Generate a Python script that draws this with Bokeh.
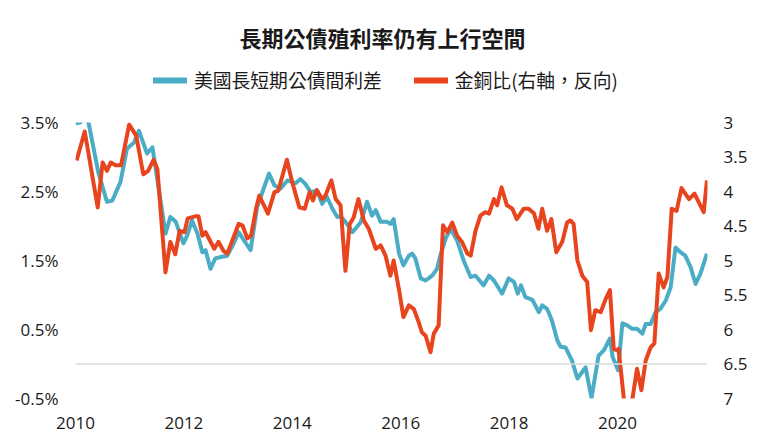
from bokeh.plotting import figure
from bokeh.layouts import column
from bokeh.models import (Range1d, LinearAxis, FixedTicker, PrintfTickFormatter,
                          NumeralTickFormatter, Legend, LegendItem, Span, Label)
from bokeh.embed import file_html
from bokeh.resources import INLINE

title_text = "長期公債殖利率仍有上行空間"
spread_name = "美國長短期公債間利差"
ratio_name = "金銅比(右軸，反向)"

# US 10y-2y spread (%), left axis
spread_year = [2010.00, 2010.09, 2010.17, 2010.24, 2010.42, 2010.58, 2010.68, 2010.83, 2010.95, 2011.08,
               2011.17, 2011.32, 2011.42, 2011.66, 2011.75, 2011.85, 2011.99, 2012.06, 2012.15, 2012.25,
               2012.34, 2012.40, 2012.49, 2012.58, 2012.68, 2012.80, 2012.92, 2013.01, 2013.11, 2013.23,
               2013.35, 2013.47, 2013.57, 2013.67, 2013.78, 2013.91, 2014.06, 2014.15, 2014.24, 2014.34,
               2014.46, 2014.55, 2014.64, 2014.74, 2014.83, 2014.89, 2014.98, 2015.11, 2015.26, 2015.38,
               2015.47, 2015.54, 2015.63, 2015.75, 2015.81, 2015.87, 2015.97, 2016.05, 2016.15, 2016.21,
               2016.27, 2016.37, 2016.46, 2016.58, 2016.67, 2016.73, 2016.83, 2016.92, 2017.04, 2017.16,
               2017.29, 2017.38, 2017.53, 2017.63, 2017.72, 2017.87, 2017.99, 2018.09, 2018.16, 2018.22,
               2018.30, 2018.43, 2018.55, 2018.61, 2018.70, 2018.79, 2018.89, 2018.95, 2019.04, 2019.16,
               2019.26, 2019.41, 2019.52, 2019.65, 2019.75, 2019.86, 2019.91, 2020.01, 2020.09, 2020.18,
               2020.27, 2020.36, 2020.46, 2020.52, 2020.61, 2020.70, 2020.79, 2020.89, 2020.98, 2021.07,
               2021.16, 2021.25, 2021.35, 2021.44, 2021.53, 2021.65]
spread_val = [3.49, 3.50, 3.60, 3.50, 2.78, 2.35, 2.37, 2.64, 3.12, 3.21,
              3.38, 3.05, 3.14, 1.89, 2.13, 2.06, 1.75, 1.86, 2.08, 1.89,
              1.62, 1.65, 1.38, 1.53, 1.55, 1.57, 1.75, 1.91, 1.79, 1.65,
              2.27, 2.54, 2.76, 2.59, 2.54, 2.66, 2.62, 2.68, 2.61, 2.49,
              2.51, 2.32, 2.42, 2.25, 2.13, 2.14, 2.06, 1.91, 2.05, 2.35,
              2.15, 2.23, 2.06, 2.06, 2.03, 2.10, 1.60, 1.43, 1.57, 1.60,
              1.53, 1.24, 1.21, 1.28, 1.38, 1.57, 1.82, 1.96, 1.79, 1.50,
              1.26, 1.28, 1.14, 1.28, 1.21, 1.02, 1.24, 1.19, 1.02, 1.14,
              0.97, 0.93, 0.75, 0.85, 0.80, 0.63, 0.34, 0.25, 0.24, 0.05,
              -0.21, -0.05, -0.49, 0.12, 0.20, 0.37, 0.10, -0.09, 0.59, 0.56,
              0.51, 0.51, 0.44, 0.58, 0.58, 0.75, 0.80, 0.92, 1.11, 1.69,
              1.62, 1.57, 1.40, 1.16, 1.31, 1.60]

# Gold/copper ratio, right axis (reversed)
ratio_year = [2010.02, 2010.17, 2010.41, 2010.50, 2010.58, 2010.65, 2010.74, 2010.84, 2010.99, 2011.12,
              2011.25, 2011.34, 2011.44, 2011.51, 2011.66, 2011.75, 2011.84, 2011.92, 2012.01, 2012.07,
              2012.21, 2012.27, 2012.34, 2012.40, 2012.56, 2012.64, 2012.73, 2012.80, 2013.01, 2013.08,
              2013.17, 2013.24, 2013.33, 2013.39, 2013.55, 2013.67, 2013.74, 2013.90, 2014.00, 2014.13,
              2014.23, 2014.32, 2014.38, 2014.45, 2014.55, 2014.61, 2014.72, 2014.80, 2014.89, 2014.98,
              2015.06, 2015.13, 2015.22, 2015.32, 2015.41, 2015.54, 2015.63, 2015.72, 2015.81, 2015.87,
              2015.97, 2016.05, 2016.15, 2016.24, 2016.33, 2016.39, 2016.46, 2016.55, 2016.61, 2016.70,
              2016.78, 2016.86, 2016.95, 2017.04, 2017.13, 2017.23, 2017.29, 2017.38, 2017.47, 2017.56,
              2017.63, 2017.72, 2017.78, 2017.86, 2017.96, 2018.06, 2018.14, 2018.27, 2018.36, 2018.46,
              2018.54, 2018.61, 2018.70, 2018.78, 2018.87, 2018.98, 2019.07, 2019.13, 2019.19, 2019.26,
              2019.35, 2019.44, 2019.51, 2019.59, 2019.69, 2019.78, 2019.86, 2019.93, 2019.98, 2020.02,
              2020.12, 2020.19, 2020.27, 2020.36, 2020.44, 2020.52, 2020.61, 2020.68, 2020.76, 2020.85,
              2020.92, 2021.00, 2021.09, 2021.18, 2021.32, 2021.42, 2021.59, 2021.65]
ratio_val = [3.55, 3.13, 4.23, 3.58, 3.70, 3.58, 3.62, 3.62, 3.03, 3.19,
             3.75, 3.70, 3.54, 3.67, 5.17, 4.73, 4.91, 4.57, 4.59, 4.39,
             4.36, 4.36, 4.64, 4.59, 4.83, 4.73, 4.86, 4.90, 4.47, 4.49,
             4.68, 4.64, 4.25, 4.06, 4.32, 4.01, 3.99, 3.54, 3.87, 4.23,
             4.25, 4.01, 4.13, 3.98, 4.11, 4.06, 3.84, 4.11, 4.20, 5.15,
             4.47, 4.38, 4.11, 4.42, 4.54, 4.83, 4.78, 4.93, 5.22, 5.00,
             5.43, 5.82, 5.65, 5.70, 5.89, 6.04, 6.09, 6.33, 6.06, 5.94,
             4.49, 4.59, 4.45, 4.64, 4.73, 4.90, 4.93, 4.57, 4.35, 4.30,
             4.32, 4.11, 4.20, 3.94, 4.20, 4.25, 4.40, 4.25, 4.25, 4.32,
             4.54, 4.25, 4.57, 4.40, 4.88, 4.73, 4.45, 4.42, 4.47, 5.00,
             5.22, 5.31, 6.01, 5.72, 5.75, 5.56, 5.43, 6.28, 6.30, 6.28,
             7.03, 7.35, 7.03, 6.57, 6.88, 6.45, 6.26, 6.20, 5.19, 5.39,
             5.24, 4.25, 4.28, 3.95, 4.11, 4.03, 4.30, 3.84]

year_ticks = [2010, 2012, 2014, 2016, 2018, 2020]
left_ticks = [-0.5, 0.5, 1.5, 2.5, 3.5]
right_ticks = [3, 3.5, 4, 4.5, 5, 5.5, 6, 6.5, 7]

TEAL = "#4bacc6"
RED = "#e8441e"
CJK = "Noto Sans CJK TC"
NUM = "Open Sans"
INK = "#1a1a1a"
NAN = float("nan")

# ---- header (title + legend); its frame is aligned with the chart frame (x 75..707) ----
head = figure(width=760, height=102, output_backend="svg", toolbar_location=None,
              x_range=Range1d(75, 707), y_range=Range1d(102, 0),
              x_axis_type=None, y_axis_type=None,
              min_border_left=75, min_border_right=53, min_border_top=0, min_border_bottom=0)
head.outline_line_color = None
head.xgrid.visible = False
head.ygrid.visible = False

head.add_layout(Label(x=382, y=36, text=title_text, text_align="center", text_baseline="middle",
                      text_font=CJK, text_font_size="22px", text_font_style="bold",
                      text_color=INK))

# legend key renderers (no visible data of their own)
k1 = head.line([NAN], [NAN], line_color=TEAL, line_width=6, line_cap="round")
k2 = head.line([NAN], [NAN], line_color=RED, line_width=6, line_cap="round")
legend = Legend(items=[LegendItem(label=spread_name, renderers=[k1]),
                       LegendItem(label=ratio_name, renderers=[k2])],
                orientation="horizontal", location=(78, 9),
                label_text_font=CJK, label_text_font_size="18.8px", label_text_color=INK,
                glyph_width=34, glyph_height=20, label_standoff=7, spacing=32,
                border_line_color=None, background_fill_alpha=0, margin=0, padding=10)
head.add_layout(legend)

# ---- main chart ----
p = figure(width=760, height=343, output_backend="svg", toolbar_location=None,
           x_range=Range1d(2010.0, 2021.66), y_range=Range1d(-0.5, 3.5),
           min_border_left=75, min_border_right=53, min_border_top=20, min_border_bottom=47)
p.extra_y_ranges = {"ratio": Range1d(7, 3)}
p.outline_line_color = None
p.xgrid.visible = False
p.ygrid.visible = False

p.add_layout(Span(location=0, dimension="width", line_color="#d9d9d9", line_width=1.5))

p.line(spread_year, spread_val, line_color=TEAL, line_width=4, line_join="round")
p.line(ratio_year, ratio_val, line_color=RED, line_width=4, line_join="round",
       y_range_name="ratio")

def style(ax):
    ax.axis_line_color = None
    ax.major_tick_line_color = None
    ax.minor_tick_line_color = None
    ax.major_label_text_font = NUM
    ax.major_label_text_font_size = "17px"
    ax.major_label_text_color = INK

xa = p.xaxis[0]
xa.ticker = FixedTicker(ticks=year_ticks)
xa.formatter = PrintfTickFormatter(format="%d")
xa.major_label_standoff = 12
style(xa)

ya = p.yaxis[0]
ya.ticker = FixedTicker(ticks=left_ticks)
ya.formatter = PrintfTickFormatter(format="%.1f%%")
ya.major_label_standoff = 11
style(ya)

ra = LinearAxis(y_range_name="ratio", ticker=FixedTicker(ticks=right_ticks),
                formatter=NumeralTickFormatter(format="0.[0]"))
ra.major_label_standoff = 10
style(ra)
p.add_layout(ra, "right")

layout = column(head, p, spacing=0)
open("out.html", "w").write(file_html(layout, INLINE))
